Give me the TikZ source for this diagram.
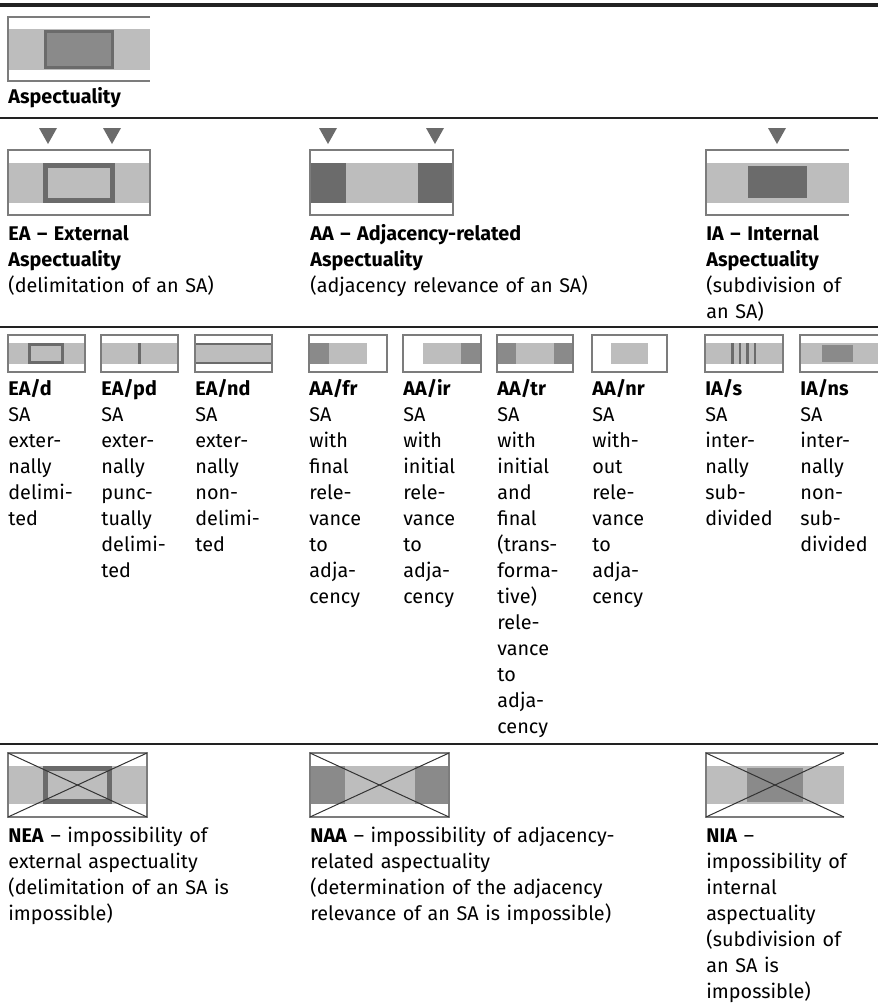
\documentclass[tikz,border=0pt]{standalone}
\usepackage{fontspec}
\setmainfont{Fira Sans}
\definecolor{bandgray}{HTML}{BDBDBD}
\definecolor{darkgray}{HTML}{6B6B6B}
\definecolor{midgray}{HTML}{8A8A8A}
\definecolor{framegray}{HTML}{7C7C7C}
\definecolor{rulegray}{HTML}{222222}
\tikzset{
    band/.style={fill=bandgray},
    darkpart/.style={fill=darkgray},
    midpart/.style={fill=midgray},
    outline/.style={draw=darkgray},
    iconframe/.style={draw=framegray, line width=0.6pt},
    cross/.style={draw=black!80, line width=0.5pt},
    tri/.style={fill=darkgray},
    sepline/.style={draw=rulegray, line width=1.2pt},
    txt/.style={anchor=base west, align=left, inner sep=0pt, text width=230pt, font=\fontsize{9.9}{13}\selectfont}
}
\begin{document}
\begin{tikzpicture}[x=0.5pt, y=-0.5pt]
    \useasboundingbox (0,0) rectangle (878,1003);

    % rules
    \draw [sepline, line width=1.6pt] (0,5) -- (878,5);
    \draw [sepline] (0,118) -- (878,118);
    \draw [sepline] (0,327) -- (878,327);
    \draw [sepline, line width=0.7pt] (0,744) -- (878,744);

    % Aspectuality
    \fill [band] (8,29) rectangle (150,70);
    \filldraw [midpart, outline, line width=1.5pt] (45.5,31.5) rectangle (112.5,67.5);
    \draw [iconframe] (150,17) -- (8,17) -- (8,81) -- (150,81);
    \node (asp) [txt] at (8,103) {\textbf{Aspectuality}};

    % EA
    \fill [tri] (39,128) -- (57,128) -- (48,144) -- cycle;
    \fill [tri] (103,128) -- (121,128) -- (112,144) -- cycle;
    \fill [band] (8,163) rectangle (150,203);
    \draw [outline, line width=2.5pt] (45.5,165.5) rectangle (112.5,200.5);
    \draw [iconframe] (8,150) rectangle (150,215);
    \node (ea) [txt] at (8,240) {\textbf{EA – External}\\ \textbf{Aspectuality}\\ (delimitation of an SA)};

    % AA
    \fill [tri] (319,128) -- (337,128) -- (328,144) -- cycle;
    \fill [tri] (426,128) -- (444,128) -- (435,144) -- cycle;
    \fill [band] (310,163) rectangle (453,203);
    \fill [darkpart] (310,163) rectangle (346,203);
    \fill [darkpart] (418,163) rectangle (453,203);
    \draw [iconframe] (310,150) rectangle (453,215);
    \node (aa) [txt] at (310,240) {\textbf{AA – Adjacency-related}\\ \textbf{Aspectuality}\\ (adjacency relevance of an SA)};

    % IA
    \fill [tri] (768,128) -- (786,128) -- (777,144) -- cycle;
    \fill [band] (706,163) rectangle (849,203);
    \fill [darkpart] (748,166) rectangle (807,198);
    \draw [iconframe] (849,150) -- (706,150) -- (706,215) -- (849,215);
    \node (ia) [txt] at (706,240) {\textbf{IA – Internal}\\ \textbf{Aspectuality}\\ (subdivision of\\ an SA)};

    % EA/d
    \fill [band] (8,343) rectangle (85,364);
    \draw [outline, line width=1.5pt] (29.5,344.5) rectangle (62.5,362.5);
    \draw [iconframe] (8,335) rectangle (85,372);
    \node (ead) [txt] at (8,395) {\textbf{EA/d}\\ SA\\ exter-\\ nally\\ delimi-\\ ted};

    % EA/pd
    \fill [band] (101,343) rectangle (178,364);
    \fill [darkpart] (138,343) rectangle (141,364);
    \draw [iconframe] (101,335) rectangle (178,372);
    \node (eapd) [txt] at (101,395) {\textbf{EA/pd}\\ SA\\ exter-\\ nally\\ punc-\\ tually\\ delimi-\\ ted};

    % EA/nd
    \fill [band] (195,343) rectangle (272,364);
    \draw [outline, line width=1.2pt] (195,344) -- (272,344);
    \draw [outline, line width=1.2pt] (195,363) -- (272,363);
    \draw [iconframe] (195,335) rectangle (272,372);
    \node (eand) [txt] at (195,395) {\textbf{EA/nd}\\ SA\\ exter-\\ nally\\ non-\\ delimi-\\ ted};

    % AA/fr
    \fill [band] (329,343) rectangle (367,364);
    \fill [midpart] (309,343) rectangle (329,364);
    \draw [iconframe] (309,335) rectangle (387,372);
    \node (aafr) [txt] at (309,395) {\textbf{AA/fr}\\ SA\\ with\\ final\\ rele-\\ vance\\ to\\ adja-\\ cency};

    % AA/ir
    \fill [band] (423,343) rectangle (461,364);
    \fill [midpart] (461,343) rectangle (481,364);
    \draw [iconframe] (403,335) rectangle (481,372);
    \node (aair) [txt] at (403,395) {\textbf{AA/ir}\\ SA\\ with\\ initial\\ rele-\\ vance\\ to\\ adja-\\ cency};

    % AA/tr
    \fill [band] (516,343) rectangle (554,364);
    \fill [midpart] (497,343) rectangle (516,364);
    \fill [midpart] (554,343) rectangle (573,364);
    \draw [iconframe] (497,335) rectangle (573,372);
    \node (aatr) [txt] at (497,395) {\textbf{AA/tr}\\ SA\\ with\\ initial\\ and\\ final\\ (trans-\\ forma-\\ tive)\\ rele-\\ vance\\ to\\ adja-\\ cency};

    % AA/nr
    \fill [band] (611,343) rectangle (648,364);
    \draw [iconframe] (592,335) rectangle (667,372);
    \node (aanr) [txt] at (592,395) {\textbf{AA/nr}\\ SA\\ with-\\ out\\ rele-\\ vance\\ to\\ adja-\\ cency};

    % IA/s
    \fill [band] (705,343) rectangle (783,364);
    \foreach \bx in {731,738.5,746,753.5}
        \fill [darkpart] (\bx,343) rectangle ++(2.5,21);
    \draw [iconframe] (705,335) rectangle (783,372);
    \node (ias) [txt] at (705,395) {\textbf{IA/s}\\ SA\\ inter-\\ nally\\ sub-\\ divided};

    % IA/ns
    \fill [band] (800,343) rectangle (878,364);
    \fill [midpart] (822,345) rectangle (853,362);
    \draw [iconframe] (878,335) -- (800,335) -- (800,372) -- (878,372);
    \node (ians) [txt] at (800,395) {\textbf{IA/ns}\\ SA\\ inter-\\ nally\\ non-\\ sub-\\ divided};

    % NEA
    \fill [band] (8,766) rectangle (147,804);
    \draw [outline, line width=2.5pt] (45.5,768.5) rectangle (109.5,801.5);
    \draw [iconframe] (8,753) rectangle (147,817);
    \draw [cross] (8,753) -- (147,817);
    \draw [cross] (147,753) -- (8,817);
    \node (nea) [txt] at (8,842) {\textbf{NEA} – impossibility of\\ external aspectuality\\ (delimitation of an SA is\\ impossible)};

    % NAA
    \fill [band] (310,766) rectangle (449,804);
    \fill [midpart] (310,766) rectangle (345,804);
    \fill [midpart] (415,766) rectangle (449,804);
    \draw [iconframe] (310,753) rectangle (449,817);
    \draw [cross] (310,753) -- (449,817);
    \draw [cross] (449,753) -- (310,817);
    \node (naa) [txt] at (310,842) {\textbf{NAA} – impossibility of adjacency-\\ related aspectuality\\ (determination of the adjacency\\ relevance of an SA is impossible)};

    % NIA
    \fill [band] (706,766) rectangle (844,804);
    \fill [midpart] (747,768) rectangle (803,802);
    \draw [iconframe] (844,753) -- (706,753) -- (706,817) -- (844,817);
    \draw [cross] (706,753) -- (844,817);
    \draw [cross] (844,753) -- (706,817);
    \node (nia) [txt] at (706,842) {\textbf{NIA} –\\ impossibility of\\ internal\\ aspectuality\\ (subdivision of\\ an SA is\\ impossible)};
\end{tikzpicture}
\end{document}
